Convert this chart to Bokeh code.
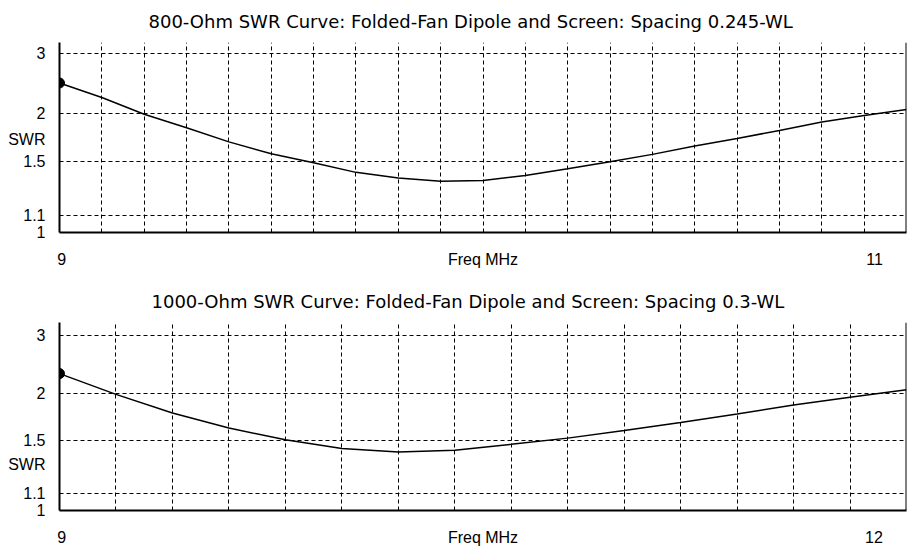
from bokeh.plotting import figure
from bokeh.layouts import column
from bokeh.models import FixedTicker, Span, Title, Range1d
from bokeh.embed import file_html
from bokeh.resources import INLINE

# ---------------- data ----------------
title_top = "800-Ohm SWR Curve: Folded-Fan Dipole and Screen: Spacing 0.245-WL"
title_bot = "1000-Ohm SWR Curve: Folded-Fan Dipole and Screen: Spacing 0.3-WL"

freq_top = [9.0, 9.1, 9.2, 9.3, 9.4, 9.5, 9.6, 9.7, 9.8, 9.9, 10.0,
            10.1, 10.2, 10.3, 10.4, 10.5, 10.6, 10.7, 10.8, 10.9, 11.0]
swr_top = [2.44, 2.215, 1.99, 1.83, 1.68, 1.565, 1.485, 1.405, 1.36, 1.335, 1.34,
           1.38, 1.435, 1.495, 1.56, 1.64, 1.715, 1.80, 1.895, 1.975, 2.05]

freq_bot = [9.0, 9.2, 9.4, 9.6, 9.8, 10.0, 10.2, 10.4, 10.6, 10.8,
            11.0, 11.2, 11.4, 11.6, 11.8, 12.0]
swr_bot = [2.28, 1.99, 1.77, 1.615, 1.505, 1.43, 1.40, 1.415, 1.465, 1.52,
           1.59, 1.67, 1.76, 1.86, 1.955, 2.05]

swr_ticks = [1.0, 1.1, 1.5, 2.0, 3.0]
swr_tick_labels = ["1", "1.1", "1.5", "2", "3"]
swr_grid = [1.1, 1.5, 2.0, 3.0]
swr_axis_title = "SWR"
swr_axis_title_pos_top = 1.70
swr_axis_title_pos_bot = 1.30

x_ticks_top = [9.0, 10.0, 11.0]
x_ticks_bot = [9.0, 10.5, 12.0]
x_tick_labels_top = ["9", "Freq MHz", "11"]
x_tick_labels_bot = ["9", "Freq MHz", "12"]


def rho(s):
    # SWR axis is linear in reflection coefficient
    return (s - 1.0) / (s + 1.0)


TICK_FONT = "Liberation Sans"
TITLE_FONT = "DejaVu Sans"
NB = "\u00a0"


def make_plot(title, title_offset, freqs, swrs, y_end_rho, title_pos, x_ticks, x_tick_labels,
              height, border_top, border_bottom):
    x_start, x_end = freqs[0], freqs[-1]
    p = figure(width=909, height=height, output_backend="svg", toolbar_location=None,
               x_range=Range1d(x_start, x_end), y_range=Range1d(0, y_end_rho),
               min_border_left=59, min_border_right=3,
               min_border_top=border_top, min_border_bottom=border_bottom)
    p.title = Title(text=title, align="left", offset=title_offset, text_font=TITLE_FONT,
                    text_font_size="18px", text_font_style="normal", text_color="black",
                    standoff=18, vertical_align="top")
    p.outline_line_color = None
    p.background_fill_color = "white"
    p.border_fill_color = "white"

    # grid
    p.xgrid.ticker = FixedTicker(ticks=freqs[1:-1])
    p.ygrid.ticker = FixedTicker(ticks=[rho(s) for s in swr_grid])
    for g in (p.xgrid, p.ygrid):
        g.grid_line_color = "black"
        g.grid_line_dash = "4 3"
        g.grid_line_width = 1

    # y axis
    yt = [rho(s) for s in swr_ticks] + [rho(title_pos)]
    overrides = {rho(s): lab for s, lab in zip(swr_ticks, swr_tick_labels)}
    overrides[rho(title_pos)] = swr_axis_title
    ya = p.yaxis[0]
    ya.ticker = FixedTicker(ticks=yt)
    ya.major_label_overrides = overrides
    ya.major_tick_line_color = None
    ya.minor_tick_line_color = None
    ya.major_label_standoff = 8
    ya.major_label_text_font = TICK_FONT
    ya.major_label_text_font_size = "16px"
    ya.major_label_text_color = "black"
    ya.axis_line_color = "black"
    ya.axis_line_width = 2

    # x axis: end labels sit just inside the frame, as in the reference
    xo = {x_ticks[0]: NB + x_tick_labels[0],
          x_ticks[1]: x_tick_labels[1],
          x_ticks[2]: x_tick_labels[2] + NB * 6}
    xa = p.xaxis[0]
    xa.ticker = FixedTicker(ticks=x_ticks)
    xa.major_label_overrides = xo
    xa.major_tick_line_color = None
    xa.minor_tick_line_color = None
    xa.major_label_standoff = 12
    xa.major_label_text_font = TICK_FONT
    xa.major_label_text_font_size = "16px"
    xa.major_label_text_color = "black"
    xa.axis_line_color = "black"
    xa.axis_line_width = 2

    # right border
    p.add_layout(Span(location=x_end, dimension="height", line_color="black", line_width=2))

    # curve
    ys = [rho(s) for s in swrs]
    p.line(freqs, ys, line_color="black", line_width=1.5)
    p.scatter([freqs[0]], [ys[0]], size=10, color="black")
    return p


p1 = make_plot(title_top, 89, freq_top, swr_top, 0.532, swr_axis_title_pos_top,
               x_ticks_top, x_tick_labels_top, 270, 42, 35)
p2 = make_plot(title_bot, 92, freq_bot, swr_bot, 0.536, swr_axis_title_pos_bot,
               x_ticks_bot, x_tick_labels_bot, 278, 52, 31)

layout = column(p1, p2, spacing=0)
open("out.html", "w").write(file_html(layout, INLINE))
